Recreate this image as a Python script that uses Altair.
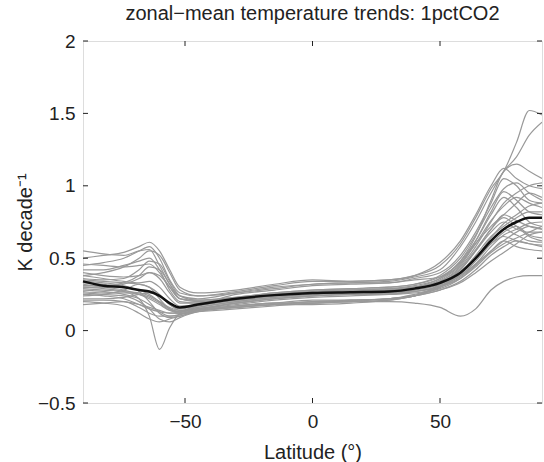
import altair as alt
import pandas as pd

lats = [-90, -82, -74, -68, -64, -60, -56, -52, -45, -30, -15, 0, 15, 30, 40, 50, 58, 64, 70, 75, 80, 85, 90]

mean_line = [0.34, 0.31, 0.30, 0.28, 0.27, 0.24, 0.19, 0.16, 0.18, 0.22, 0.245, 0.26, 0.265, 0.27, 0.29, 0.33, 0.40, 0.50, 0.62, 0.70, 0.75, 0.78, 0.78]

models = [
    [0.45, 0.47, 0.50, 0.55, 0.58, 0.50, 0.35, 0.26, 0.24, 0.27, 0.31, 0.34, 0.34, 0.35, 0.38, 0.45, 0.60, 0.78, 0.98, 1.10, 1.30, 1.52, 1.49],
    [0.38, 0.40, 0.44, 0.50, 0.55, 0.52, 0.40, 0.28, 0.24, 0.26, 0.29, 0.32, 0.33, 0.34, 0.37, 0.42, 0.58, 0.75, 0.95, 1.10, 1.20, 1.35, 1.44],
    [0.50, 0.52, 0.54, 0.58, 0.61, 0.55, 0.42, 0.30, 0.26, 0.28, 0.32, 0.35, 0.34, 0.35, 0.38, 0.47, 0.62, 0.80, 1.00, 1.12, 1.05, 1.00, 0.98],
    [0.30, 0.29, 0.27, 0.22, 0.10, -0.13, 0.02, 0.12, 0.17, 0.21, 0.24, 0.26, 0.27, 0.28, 0.30, 0.36, 0.48, 0.65, 0.90, 1.10, 1.15, 1.10, 1.05],
    [0.55, 0.53, 0.52, 0.55, 0.56, 0.45, 0.32, 0.24, 0.22, 0.26, 0.30, 0.32, 0.33, 0.33, 0.36, 0.40, 0.52, 0.68, 0.88, 1.05, 1.00, 0.90, 0.88],
    [0.25, 0.24, 0.22, 0.18, 0.15, 0.13, 0.12, 0.12, 0.14, 0.17, 0.19, 0.19, 0.20, 0.20, 0.19, 0.16, 0.10, 0.15, 0.28, 0.34, 0.37, 0.38, 0.38],
    [0.20, 0.19, 0.17, 0.12, 0.08, 0.06, 0.08, 0.10, 0.13, 0.16, 0.18, 0.18, 0.19, 0.21, 0.24, 0.30, 0.40, 0.50, 0.60, 0.65, 0.62, 0.60, 0.58],
    [0.18, 0.19, 0.20, 0.16, 0.12, 0.10, 0.10, 0.11, 0.14, 0.16, 0.18, 0.20, 0.21, 0.22, 0.24, 0.32, 0.42, 0.55, 0.70, 0.78, 0.72, 0.65, 0.62],
    [0.35, 0.34, 0.33, 0.32, 0.30, 0.25, 0.18, 0.15, 0.17, 0.21, 0.24, 0.26, 0.27, 0.27, 0.29, 0.34, 0.44, 0.58, 0.75, 0.88, 0.95, 1.00, 1.02],
    [0.42, 0.42, 0.45, 0.48, 0.50, 0.42, 0.28, 0.20, 0.19, 0.25, 0.28, 0.31, 0.32, 0.33, 0.35, 0.37, 0.48, 0.62, 0.80, 0.92, 0.85, 0.75, 0.72],
    [0.28, 0.27, 0.25, 0.22, 0.18, 0.13, 0.10, 0.11, 0.15, 0.17, 0.19, 0.21, 0.21, 0.22, 0.25, 0.30, 0.38, 0.46, 0.55, 0.62, 0.68, 0.72, 0.70],
    [0.32, 0.30, 0.28, 0.25, 0.22, 0.18, 0.14, 0.13, 0.16, 0.20, 0.23, 0.25, 0.26, 0.26, 0.27, 0.31, 0.38, 0.48, 0.60, 0.68, 0.72, 0.66, 0.64],
    [0.40, 0.38, 0.37, 0.38, 0.40, 0.36, 0.26, 0.19, 0.19, 0.22, 0.25, 0.27, 0.28, 0.29, 0.30, 0.35, 0.45, 0.60, 0.72, 0.80, 0.88, 0.95, 0.92],
    [0.22, 0.22, 0.23, 0.25, 0.26, 0.24, 0.18, 0.14, 0.15, 0.19, 0.22, 0.24, 0.25, 0.25, 0.26, 0.29, 0.36, 0.45, 0.55, 0.62, 0.58, 0.56, 0.55],
    [0.30, 0.30, 0.32, 0.36, 0.40, 0.38, 0.30, 0.22, 0.20, 0.22, 0.25, 0.27, 0.28, 0.28, 0.29, 0.33, 0.42, 0.55, 0.68, 0.75, 0.70, 0.68, 0.68],
    [0.26, 0.25, 0.24, 0.20, 0.15, 0.08, 0.06, 0.09, 0.13, 0.16, 0.18, 0.20, 0.20, 0.21, 0.24, 0.28, 0.34, 0.42, 0.52, 0.58, 0.62, 0.60, 0.59],
    [0.36, 0.35, 0.36, 0.42, 0.48, 0.46, 0.34, 0.24, 0.21, 0.23, 0.26, 0.28, 0.29, 0.30, 0.32, 0.38, 0.50, 0.66, 0.85, 0.98, 1.02, 0.95, 0.90],
    [0.33, 0.32, 0.30, 0.28, 0.25, 0.20, 0.15, 0.13, 0.15, 0.19, 0.22, 0.24, 0.25, 0.26, 0.28, 0.32, 0.40, 0.52, 0.65, 0.72, 0.78, 0.82, 0.82],
    [0.24, 0.25, 0.28, 0.32, 0.30, 0.22, 0.15, 0.13, 0.15, 0.19, 0.22, 0.24, 0.25, 0.25, 0.27, 0.30, 0.37, 0.46, 0.58, 0.66, 0.70, 0.74, 0.75],
    [0.46, 0.45, 0.44, 0.45, 0.46, 0.40, 0.30, 0.22, 0.21, 0.23, 0.26, 0.28, 0.29, 0.30, 0.32, 0.37, 0.47, 0.60, 0.76, 0.86, 0.92, 0.88, 0.85],
    [0.29, 0.28, 0.27, 0.26, 0.24, 0.20, 0.16, 0.14, 0.16, 0.20, 0.23, 0.25, 0.26, 0.26, 0.28, 0.32, 0.40, 0.50, 0.62, 0.70, 0.66, 0.62, 0.61],
    [0.34, 0.33, 0.31, 0.27, 0.20, 0.12, 0.09, 0.10, 0.14, 0.18, 0.21, 0.23, 0.24, 0.25, 0.27, 0.31, 0.39, 0.50, 0.64, 0.74, 0.80, 0.86, 0.88],
    [0.38, 0.36, 0.34, 0.33, 0.34, 0.30, 0.22, 0.17, 0.18, 0.21, 0.24, 0.26, 0.27, 0.28, 0.30, 0.34, 0.43, 0.56, 0.70, 0.80, 0.76, 0.72, 0.70],
    [0.21, 0.21, 0.20, 0.18, 0.16, 0.14, 0.12, 0.12, 0.14, 0.17, 0.19, 0.19, 0.21, 0.22, 0.24, 0.28, 0.33, 0.40, 0.48, 0.54, 0.60, 0.66, 0.68],
    [0.31, 0.31, 0.33, 0.38, 0.44, 0.42, 0.32, 0.22, 0.20, 0.22, 0.25, 0.27, 0.28, 0.29, 0.31, 0.36, 0.46, 0.62, 0.82, 0.96, 0.90, 0.82, 0.80],
    [0.27, 0.26, 0.26, 0.25, 0.23, 0.19, 0.14, 0.12, 0.13, 0.15, 0.17, 0.19, 0.20, 0.22, 0.24, 0.30, 0.36, 0.44, 0.54, 0.60, 0.64, 0.68, 0.72],
]

x_ticks = [-50, 0, 50]
y_ticks = [-0.5, 0, 0.5, 1, 1.5, 2]

W, H = 459, 362
FONT = "Liberation Sans"

rows = []
for i, m in enumerate(models):
    for la, v in zip(lats, m):
        rows.append({"lat": la, "val": v, "model": f"m{i:02d}"})
df = pd.DataFrame(rows)
mdf = pd.DataFrame({"lat": lats, "val": mean_line})

xs = alt.Scale(domain=[-90, 90], nice=False, zero=False)
ys = alt.Scale(domain=[-0.5, 2], nice=False, zero=False)

xaxis = alt.Axis(values=x_ticks, ticks=False, domain=False, grid=False,
                 labelFont=FONT, labelFontSize=19, labelColor="#222",
                 labelPadding=9, title="Latitude (°)", titleFont=FONT,
                 titleFontSize=20, titleFontWeight="normal", titleColor="#222",
                 titlePadding=11)
yaxis = alt.Axis(values=y_ticks, ticks=False, domain=False, grid=False,
                 labelFont=FONT, labelFontSize=19, labelColor="#222",
                 labelPadding=8, labelExpr="datum.value == 0 ? '0' : format(datum.value, '.1~f')",
                 title="K decade⁻¹", titleFont=FONT,
                 titleFontSize=20, titleFontWeight="normal", titleColor="#222",
                 titlePadding=2)

gray = alt.Chart(df).mark_line(color="#999999", strokeWidth=1.2, interpolate="monotone", clip=True).encode(
    x=alt.X("lat:Q", scale=xs, axis=xaxis),
    y=alt.Y("val:Q", scale=ys, axis=yaxis),
    detail="model:N",
)
black = alt.Chart(mdf).mark_line(color="#111111", strokeWidth=2.5, interpolate="monotone").encode(
    x=alt.X("lat:Q", scale=xs),
    y=alt.Y("val:Q", scale=ys),
)

xt = pd.DataFrame({"t": x_ticks})
yt = pd.DataFrame({"t": y_ticks})
tick_style = dict(color="#222", strokeWidth=1)
xb = alt.Chart(xt).mark_rule(**tick_style).encode(x=alt.X("t:Q", scale=xs), y=alt.value(H), y2=alt.value(H - 5))
xtp = alt.Chart(xt).mark_rule(**tick_style).encode(x=alt.X("t:Q", scale=xs), y=alt.value(0), y2=alt.value(5))
yl = alt.Chart(yt).mark_rule(**tick_style).encode(y=alt.Y("t:Q", scale=ys), x=alt.value(0), x2=alt.value(5))
yr = alt.Chart(yt).mark_rule(**tick_style).encode(y=alt.Y("t:Q", scale=ys), x=alt.value(W), x2=alt.value(W - 5))

chart = alt.layer(gray, black, xb, xtp, yl, yr).properties(
    width=W, height=H,
    title=alt.TitleParams("zonal−mean temperature trends: 1pctCO2", font=FONT, fontSize=20,
                          fontWeight="normal", color="#222", anchor="middle", offset=8),
    autosize=alt.AutoSizeParams(type="none"),
    padding={"left": 83, "top": 41, "right": 2, "bottom": 59},
).configure_view(stroke="#222", strokeWidth=1.5).configure(background="white")

chart.save("out.html", embed_options={"renderer": "svg", "actions": False})
